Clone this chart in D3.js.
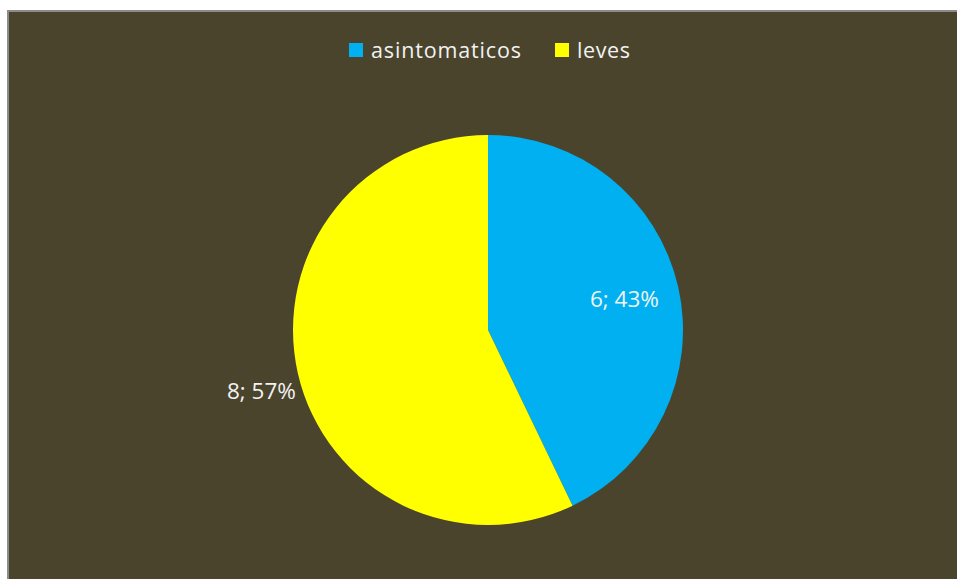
<!DOCTYPE html>
<html><head><meta charset="utf-8">
<script src="https://cdn.jsdelivr.net/npm/d3@7"></script>
<style>html,body{margin:0;padding:0;background:#fff;overflow:hidden}</style>
</head><body>
<svg id="c" width="957" height="579"></svg>
<script>
const categories = ["asintomaticos", "leves"];
const values = [6, 8];
const colors = ["#00b0f0", "#ffff00"];

const svg = d3.select("#c");
svg.append("rect").attr("x", 8).attr("y", 11).attr("width", 960).attr("height", 580)
  .attr("fill", "#4a442d").attr("stroke", "#8c8c8c").attr("stroke-width", 2);

const total = d3.sum(values);
const cx = 488, cy = 330, R = 195;
const pie = d3.pie().sort(null).value(d => d)(values);
const arc = d3.arc().innerRadius(0).outerRadius(R);
const g = svg.append("g").attr("transform", `translate(${cx},${cy})`);
g.selectAll("path").data(pie).join("path").attr("d", arc).attr("fill", (d, i) => colors[i]);

const labelFont = "'Open Sans', sans-serif";
const inArc = d3.arc().innerRadius(140).outerRadius(140);
pie.forEach((d, i) => {
  const txt = `${values[i]}; ${Math.round(values[i] / total * 100)}%`;
  let x, y, anchor;
  if (i === 0) {
    [x, y] = inArc.centroid(d);
    anchor = "middle";
    y += 8;
  } else {
    const a = (d.startAngle + d.endAngle) / 2;
    x = Math.sin(a) * (R + 2);
    y = -Math.cos(a) * (R + 2) + 25;
    anchor = "end";
  }
  g.append("text").attr("x", x).attr("y", y).attr("text-anchor", anchor)
    .attr("font-family", labelFont).attr("font-size", 22.5).attr("fill", "#f2f2f2")
    .text(txt);
});

// legend
const legend = svg.append("g");
const legX = [349, 555];
const legW = [150, 53];
categories.forEach((c, i) => {
  legend.append("rect").attr("x", legX[i]).attr("y", 43).attr("width", 14).attr("height", 14).attr("fill", colors[i]);
  legend.append("text").attr("x", legX[i] + 22).attr("y", 57.5)
    .attr("font-family", labelFont).attr("font-size", 21.5).attr("fill", "#f2f2f2")
    .attr("textLength", legW[i]).attr("lengthAdjust", "spacing").text(c);
});
</script>
</body></html>
